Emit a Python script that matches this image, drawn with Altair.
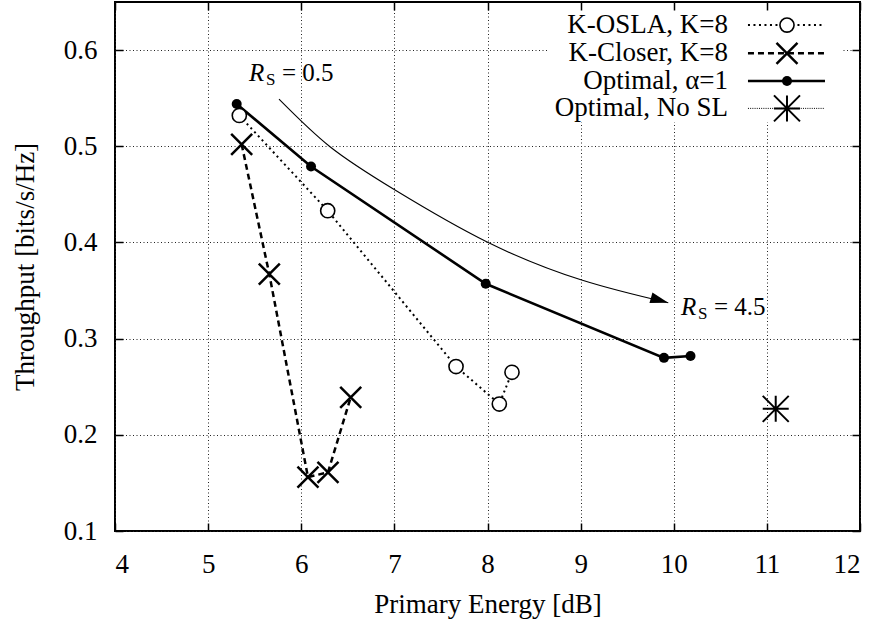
import altair as alt
import pandas as pd

# Throughput [bits/s/Hz] against primary energy [dB]
osla_x = [5.335, 6.284, 7.662, 8.127, 8.263]
osla_y = [0.532, 0.433, 0.271, 0.232, 0.265]

closer_x = [5.36, 5.657, 6.072, 6.287, 6.531]
closer_y = [0.502, 0.367, 0.156, 0.161, 0.239]

optimal_x = [5.307, 6.105, 7.981, 9.895, 10.18]
optimal_y = [0.544, 0.479, 0.357, 0.280, 0.282]

nosl_x = [11.095]
nosl_y = [0.227]

x_ticks = [4, 5, 6, 7, 8, 9, 10, 11, 12]
y_ticks = [0.1, 0.2, 0.3, 0.4, 0.5, 0.6]

# guide curve showing the R_S sweep direction
sweep_x = [5.761, 6.309, 7.007, 7.991, 9.011, 9.941]
sweep_y = [0.549, 0.4995, 0.4545, 0.4007, 0.3609, 0.3373]

legend_labels = ["K-OSLA, K=8", "K-Closer, K=8", "Optimal, \u03b1=1", "Optimal, No SL"]

# legend placement (data units)
LEG_ROWS = [0.626, 0.5966, 0.5678, 0.5394]
LEG_TEXT_X = 10.583
LEG_LINE_X = (10.797, 11.624)
LEG_MARK_X = 11.216
LEG_BOX = (8.65, 11.8, 0.6485, 0.525)

# R_S annotations (data units)
RS_LOW = (5.439, 0.568)
RS_HIGH = (10.078, 0.3245)

FONT = "Liberation Serif"
FS = 27

X = alt.Scale(domain=[4, 12], nice=False, zero=False)
Y = alt.Scale(domain=[0.1, 0.65], nice=False, zero=False)

CROSS = "M-1,-1L1,1M-1,1L1,-1"
STAR = "M-1,0L1,0M0,-1L0,1M-1,-1L1,1M-1,1L1,-1"
ARROW = "M0,0L-2,-0.6L-2,0.6Z"

grid_style = dict(grid=True, gridColor="#222", gridDash=[1, 2.5], gridWidth=1)

axis_bottom = alt.Axis(
    orient="bottom", values=x_ticks, format="d", offset=-8, tickSize=8,
    tickColor="black", tickWidth=1.5, domain=False,
    labelFont=FONT, labelFontSize=FS, labelColor="black", labelPadding=20,
    title="Primary Energy [dB]", titleFont=FONT, titleFontSize=FS,
    titleFontWeight="normal", titleColor="black", titlePadding=14,
    **grid_style,
)
axis_left = alt.Axis(
    orient="left", values=y_ticks, format=".1f", offset=-8, tickSize=8,
    tickColor="black", tickWidth=1.5, domain=False,
    labelFont=FONT, labelFontSize=FS, labelColor="black", labelPadding=18,
    title="Throughput [bits/s/Hz]", titleFont=FONT, titleFontSize=FS,
    titleFontWeight="normal", titleColor="black", titlePadding=24,
    **grid_style,
)
axis_top = alt.Axis(
    orient="top", values=x_ticks, offset=-8, tickSize=8, tickColor="black",
    tickWidth=1.5, domain=False, labels=False, grid=False, title=None, zindex=2,
)
axis_right = alt.Axis(
    orient="right", values=y_ticks, offset=-8, tickSize=8, tickColor="black",
    tickWidth=1.5, domain=False, labels=False, grid=False, title=None, zindex=2,
)


def frame(xs, ys):
    return pd.DataFrame({"x": xs, "y": ys, "order": list(range(len(xs)))})


def enc(chart, xaxis=None, yaxis=None):
    return chart.encode(
        x=alt.X("x:Q", scale=X, axis=xaxis),
        y=alt.Y("y:Q", scale=Y, axis=yaxis),
        order="order:Q",
    )


df_osla = frame(osla_x, osla_y)
df_closer = frame(closer_x, closer_y)
df_opt = frame(optimal_x, optimal_y)
df_nosl = frame(nosl_x, nosl_y)
df_sweep = frame(sweep_x, sweep_y)

# axes with grid and labels
base_axes = enc(alt.Chart(df_opt).mark_point(opacity=0), axis_bottom, axis_left)
# inward ticks on the top and right edges
top_axes = enc(alt.Chart(df_opt).mark_point(opacity=0), axis_top, axis_right)

# legend background
box_df = pd.DataFrame({"x": [LEG_BOX[0]], "x2": [LEG_BOX[1]],
                       "y": [LEG_BOX[2]], "y2": [LEG_BOX[3]]})
legend_box = alt.Chart(box_df).mark_rect(fill="white").encode(
    x=alt.X("x:Q", scale=X, axis=None), x2="x2:Q",
    y=alt.Y("y:Q", scale=Y, axis=None), y2="y2:Q",
)

osla_line = enc(alt.Chart(df_osla).mark_line(color="black", strokeWidth=2, strokeDash=[2, 3.5]))
osla_pts = enc(alt.Chart(df_osla).mark_point(shape="circle", size=200, filled=True,
                                              fill="white", stroke="black", strokeWidth=1.6, opacity=1))
closer_line = enc(alt.Chart(df_closer).mark_line(color="black", strokeWidth=2.5, strokeDash=[6, 4]))
closer_pts = enc(alt.Chart(df_closer).mark_point(shape=CROSS, size=441, filled=False,
                                                  stroke="black", strokeWidth=2.5, opacity=1))
opt_line = enc(alt.Chart(df_opt).mark_line(color="black", strokeWidth=2.6))
opt_pts = enc(alt.Chart(df_opt).mark_point(shape="circle", size=100, filled=True,
                                            fill="black", opacity=1))
nosl_pts = enc(alt.Chart(df_nosl).mark_point(shape=STAR, size=676, filled=False,
                                              stroke="black", strokeWidth=2, opacity=1))

sweep_line = enc(alt.Chart(df_sweep).mark_line(color="black", strokeWidth=1.1, interpolate="natural"))
arrow_head = alt.Chart(df_sweep.tail(1)).mark_point(
    shape=ARROW, size=324, filled=True, fill="black", strokeWidth=0, angle=16, opacity=1
).encode(x=alt.X("x:Q", scale=X, axis=None), y=alt.Y("y:Q", scale=Y, axis=None))


def rs_label(pos, value):
    px, py = pos
    src = pd.DataFrame({"x": [px], "y": [py]})
    common = dict(x=alt.X("x:Q", scale=X, axis=None), y=alt.Y("y:Q", scale=Y, axis=None))
    r = alt.Chart(src).mark_text(text="R", font=FONT, fontSize=25, fontStyle="italic",
                                 align="left", baseline="alphabetic", color="black").encode(**common)
    s = alt.Chart(src).mark_text(text="S", font=FONT, fontSize=17, align="left",
                                 baseline="alphabetic", dx=17, dy=4, color="black").encode(**common)
    v = alt.Chart(src).mark_text(text="= " + value, font=FONT, fontSize=25, align="left",
                                 baseline="alphabetic", dx=33, color="black").encode(**common)
    return [r, s, v]


# legend entries
legend_layers = []
leg_text_df = pd.DataFrame({"x": [LEG_TEXT_X] * 4, "y": LEG_ROWS, "label": legend_labels})
legend_layers.append(
    alt.Chart(leg_text_df).mark_text(font=FONT, fontSize=FS, align="right", baseline="middle",
                                     color="black").encode(
        x=alt.X("x:Q", scale=X, axis=None), y=alt.Y("y:Q", scale=Y, axis=None), text="label:N")
)

leg_line_styles = [
    dict(strokeWidth=2, strokeDash=[2, 3.5]),
    dict(strokeWidth=2.5, strokeDash=[6, 4]),
    dict(strokeWidth=2.6),
    dict(strokeWidth=1, strokeDash=[1, 1.2]),
]
leg_marks = [
    dict(shape="circle", size=200, filled=True, fill="white", stroke="black", strokeWidth=1.6),
    dict(shape=CROSS, size=441, filled=False, stroke="black", strokeWidth=2.5),
    dict(shape="circle", size=100, filled=True, fill="black"),
    dict(shape=STAR, size=676, filled=False, stroke="black", strokeWidth=2),
]
for row_y, lstyle, mstyle in zip(LEG_ROWS, leg_line_styles, leg_marks):
    seg = pd.DataFrame({"x": list(LEG_LINE_X), "y": [row_y, row_y], "order": [0, 1]})
    legend_layers.append(enc(alt.Chart(seg).mark_line(color="black", **lstyle)))
    pt = pd.DataFrame({"x": [LEG_MARK_X], "y": [row_y]})
    legend_layers.append(
        alt.Chart(pt).mark_point(opacity=1, **mstyle).encode(
            x=alt.X("x:Q", scale=X, axis=None), y=alt.Y("y:Q", scale=Y, axis=None))
    )

layers = [base_axes, legend_box,
          sweep_line, arrow_head,
          osla_line, closer_line, opt_line,
          osla_pts, closer_pts, opt_pts, nosl_pts]
layers += rs_label(RS_LOW, "0.5") + rs_label(RS_HIGH, "4.5")
layers += legend_layers
layers += [top_axes]

chart = (
    alt.layer(*layers)
    .resolve_axis(x="independent", y="independent")
    .properties(
        width=745, height=529,
        autosize=alt.AutoSizeParams(type="none"),
        padding={"left": 115, "top": 2, "right": 22, "bottom": 94},
        background="white",
    )
    .configure_view(stroke="black", strokeWidth=2)
)

chart.save("out.html", embed_options={"renderer": "svg", "actions": False})
